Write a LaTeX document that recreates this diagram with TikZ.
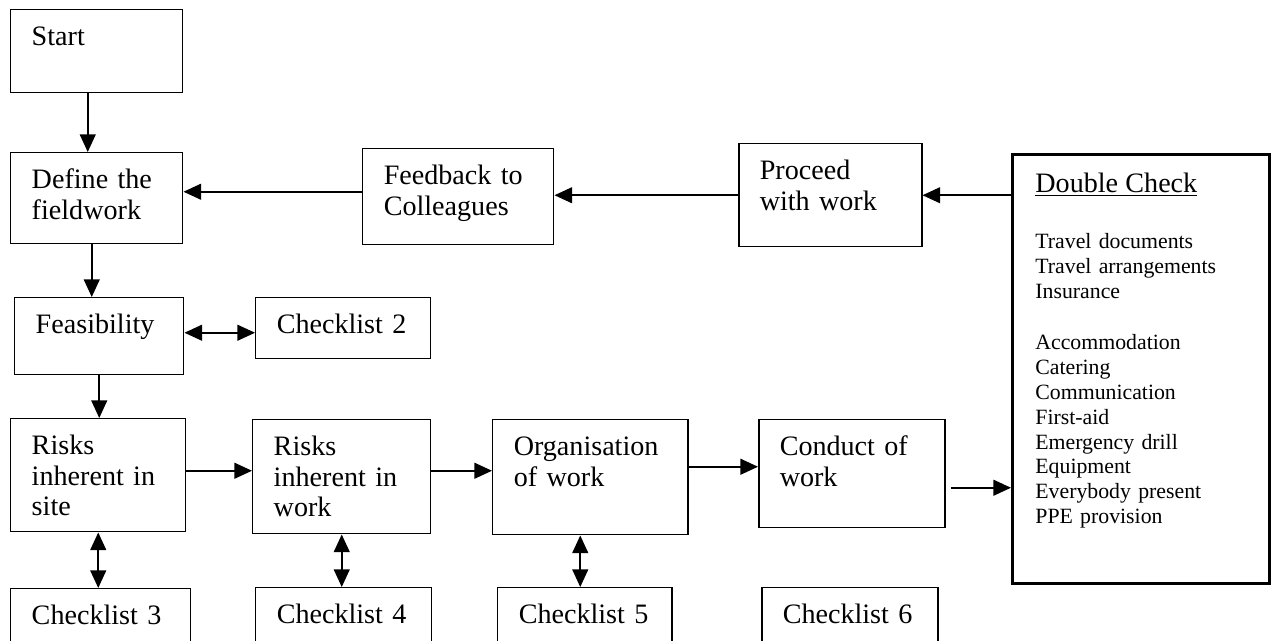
\documentclass[tikz,border=0pt]{standalone}
\usepackage{fontspec}
\setmainfont{Liberation Serif}
\usepackage{tikz}
\usetikzlibrary{arrows.meta, positioning, calc}
\newcommand{\boxfs}{\fontsize{16}{17.3}\selectfont}
\newcommand{\listfs}{\fontsize{12.4}{14.2}\selectfont}
\tikzset{
	stepbox/.style={rectangle, draw=black, line width=0.85pt, anchor=north west, align=left, inner xsep=0.42cm, inner ysep=0pt, text height=0.72cm, font=\boxfs},
	chkbox/.style={stepbox, text depth=0.68cm},
	flowarrow/.style={-{Triangle[length=10pt, width=9pt]}, line width=0.9pt},
	twoway/.style={{Triangle[length=10pt, width=9pt]}-{Triangle[length=10pt, width=9pt]}, line width=0.9pt},
}
\begin{document}
\begin{tikzpicture}
	\useasboundingbox (0,0) rectangle (25.54,-12.82);
	% top row
	\node[stepbox, text width=2.60cm, text depth=0.94cm] (start) at (0.20,-0.18) {Start};
	\node[stepbox, text width=2.60cm, text depth=1.10cm] (define) at (0.20,-3.04) {Define the\\ fieldwork};
	\node[stepbox, text width=2.98cm, text depth=1.20cm] (feedback) at (7.24,-2.96) {Feedback to\\ Colleagues};
	\node[stepbox, text width=2.82cm, text depth=1.34cm] (proceed) at (14.76,-2.86) {Proceed\\ with work};
	\node[stepbox, line width=1.6pt, text width=4.22cm, inner xsep=0.46cm, text height=0.76cm, text depth=7.82cm, font=\listfs] (dcheck) at (20.22,-3.06)
		{{\boxfs\underline{Double Check}}\\[0.62cm]
		Travel documents\\ Travel arrangements\\ Insurance\\[0.52cm]
		Accommodation\\ Catering\\ Communication\\ First-aid\\ Emergency drill\\ Equipment\\ Everybody present\\ PPE provision};
	\node[stepbox, text width=2.54cm, text depth=0.82cm] (feas) at (0.28,-5.94) {Feasibility};
	\node[stepbox, text width=2.66cm, text depth=0.50cm] (cl2) at (5.10,-5.94) {Checklist 2};
	% main row
	\node[stepbox, text width=2.66cm, text depth=1.54cm] (rsite) at (0.20,-8.36) {Risks\\ inherent in\\ site};
	\node[stepbox, text width=2.72cm, text depth=1.56cm] (rwork) at (5.04,-8.38) {Risks\\ inherent in\\ work};
	\node[stepbox, text width=3.06cm, text depth=1.58cm] (org) at (9.84,-8.38) {Organisation\\ of work};
	\node[stepbox, text width=2.88cm, text depth=1.44cm] (conduct) at (15.16,-8.38) {Conduct of\\ work};
	% checklists, cut off by the page edge
	\node[chkbox, text width=2.76cm] (cl3) at (0.20,-11.76) {Checklist 3};
	\node[chkbox, text width=2.68cm] (cl4) at (5.10,-11.74) {Checklist 4};
	\node[chkbox, text width=2.64cm] (cl5) at (9.94,-11.74) {Checklist 5};
	\node[chkbox, text width=2.68cm] (cl6) at (15.22,-11.74) {Checklist 6};
	% connectors
	\draw[flowarrow] ([xshift=-0.18cm]start.south) -- ([xshift=-0.18cm]start.south |- define.north);
	\draw[flowarrow] ([xshift=-0.10cm]define.south) -- ([xshift=-0.10cm]define.south |- feas.north);
	\draw[flowarrow] ([yshift=0.10cm]feedback.west) -- ([yshift=0.10cm]feedback.west -| define.east);
	\draw[flowarrow] (proceed.west) -- (proceed.west -| feedback.east);
	\draw[flowarrow] (proceed.east -| dcheck.west) -- (proceed.east);
	\draw[twoway] ([yshift=0.07cm]feas.east) -- ([yshift=0.07cm]feas.east -| cl2.west);
	\draw[flowarrow] (feas.south) -- (feas.south |- rsite.north);
	\draw[flowarrow] ([yshift=0.09cm]rsite.east) -- ([yshift=0.09cm]rsite.east -| rwork.west);
	\draw[flowarrow] ([yshift=0.12cm]rwork.east) -- ([yshift=0.12cm]rwork.east -| org.west);
	\draw[flowarrow] ([yshift=0.21cm]org.east) -- ([yshift=0.21cm]org.east -| conduct.west);
	\draw[flowarrow] ([xshift=0.1cm, yshift=-0.28cm]conduct.east) -- ([yshift=-0.28cm]conduct.east -| dcheck.west);
	\foreach \a/\b in {rsite/cl3, rwork/cl4} \draw[twoway] (\a.south) -- (\a.south |- \b.north);
	\draw[twoway] ([xshift=-0.2cm]org.south) -- ([xshift=-0.2cm]org.south |- cl5.north);
\end{tikzpicture}
\end{document}
